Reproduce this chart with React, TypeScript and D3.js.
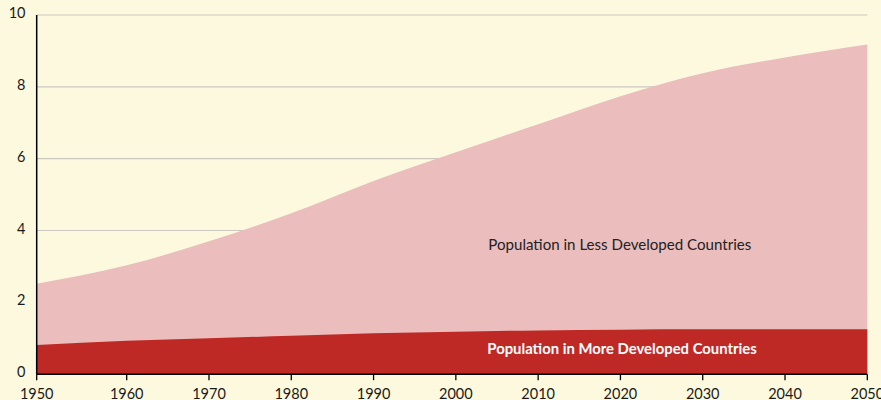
import React from "react";
import * as d3 from "d3";

const years = [1950, 1960, 1970, 1980, 1990, 2000, 2010, 2020, 2030, 2040, 2050];
const moreDeveloped = [0.81, 0.93, 1.0, 1.07, 1.14, 1.18, 1.22, 1.24, 1.25, 1.25, 1.25];
const totalPopulation = [2.52, 3.03, 3.7, 4.48, 5.38, 6.18, 6.96, 7.74, 8.38, 8.82, 9.18];
const xTicks = [1950, 1960, 1970, 1980, 1990, 2000, 2010, 2020, 2030, 2040, 2050];
const yTicks = [0, 2, 4, 6, 8, 10];
const lessLabel = "Population in Less Developed Countries";
const moreLabel = "Population in More Developed Countries";

const W = 881;
const H = 400;
const BG = "#FDF9DE";
const LIGHT = "#EBBDBD";
const DARK = "#BE2926";
const FONT = "Lato, 'Open Sans', sans-serif";

export default function App() {
  const x = d3.scaleLinear().domain([1950, 1960, 2050]).range([36.7, 126.7, 867.3]);
  const y = d3.scaleLinear().domain([0, 10]).range([374.2, 15]);

  const rows = years.map((yr, i) => ({ yr, more: moreDeveloped[i], total: totalPopulation[i] }));

  const totalArea = d3
    .area<any>()
    .x((d) => x(d.yr))
    .y0(y(0))
    .y1((d) => y(d.total))
    .curve(d3.curveMonotoneX);
  const moreArea = d3
    .area<any>()
    .x((d) => x(d.yr))
    .y0(y(0))
    .y1((d) => y(d.more))
    .curve(d3.curveMonotoneX);

  return (
    <svg
      width={W}
      height={H}
      style={{ position: "fixed", top: 0, left: 0, background: BG }}
    >
      <rect x={0} y={0} width={W} height={H} fill={BG} />
      {yTicks
        .filter((t) => t > 0)
        .map((t) => (
          <line
            key={"g" + t}
            x1={x(1950)}
            x2={x(2050)}
            y1={y(t)}
            y2={y(t)}
            stroke="#C9C7C0"
            strokeWidth={1.2}
          />
        ))}
      <path d={totalArea(rows) || ""} fill={LIGHT} />
      <path d={moreArea(rows) || ""} fill={DARK} />
      <line x1={x(1950)} x2={x(1950)} y1={y(10)} y2={y(0)} stroke="#000" strokeWidth={1.5} />
      <line x1={x(1950)} x2={x(2050)} y1={y(0)} y2={y(0)} stroke="#000" strokeWidth={1.5} />
      {xTicks.map((t) => (
        <g key={"x" + t}>
          <line x1={x(t)} x2={x(t)} y1={y(0)} y2={y(0) + 6} stroke="#000" strokeWidth={1.3} />
          <text
            x={x(t)}
            y={398.5}
            textAnchor="middle"
            fontFamily={FONT}
            fontSize={14.5}
            fill="#1a1a1a"
          >
            {t}
          </text>
        </g>
      ))}
      {yTicks.map((t) => (
        <text
          key={"y" + t}
          x={25.5}
          y={y(t) - 2}
          dy="0.35em"
          textAnchor="end"
          fontFamily={FONT}
          fontSize={14.5}
          fill="#1a1a1a"
        >
          {t}
        </text>
      ))}
      <text x={488.3} y={250} fontFamily={FONT} fontSize={15.1} fill="#222">
        {lessLabel}
      </text>
      <text
        x={487.3}
        y={354.3}
        fontFamily={FONT}
        fontSize={14.85}
        fontWeight="bold"
        fill="#fff"
      >
        {moreLabel}
      </text>
    </svg>
  );
}
